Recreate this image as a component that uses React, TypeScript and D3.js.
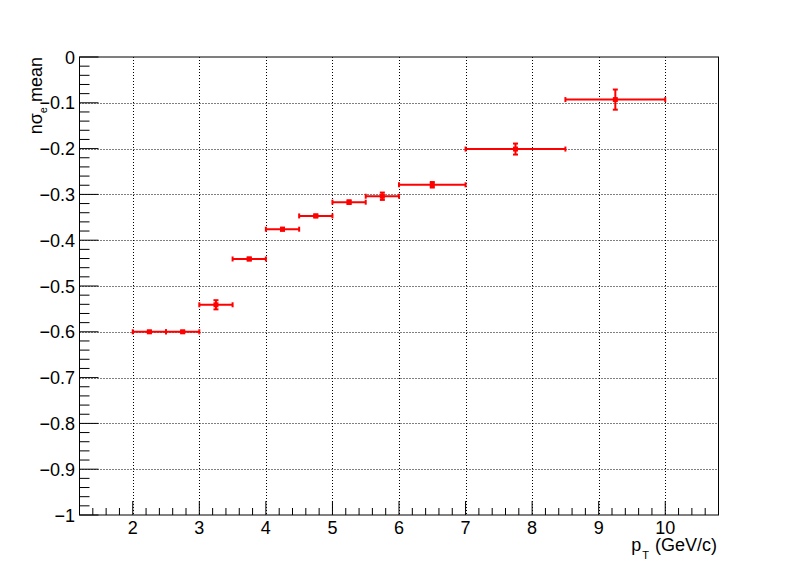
import React from "react";
import * as d3 from "d3";

const binLow = [2, 2.5, 3, 3.5, 4, 4.5, 5, 5.5, 6, 7, 8.5];
const binHigh = [2.5, 3, 3.5, 4, 4.5, 5, 5.5, 6, 7, 8.5, 10];
const meanValues = [-0.6, -0.6, -0.541, -0.441, -0.376, -0.347, -0.317, -0.304, -0.279, -0.201, -0.093];
const meanErrors = [0.002, 0.002, 0.01, 0.003, 0.003, 0.003, 0.004, 0.008, 0.006, 0.012, 0.022];
const xTicks = [2, 3, 4, 5, 6, 7, 8, 9, 10];
const yTicks = [0, -0.1, -0.2, -0.3, -0.4, -0.5, -0.6, -0.7, -0.8, -0.9, -1];
const yTickLabels = ["0", "−0.1", "−0.2", "−0.3", "−0.4", "−0.5", "−0.6", "−0.7", "−0.8", "−0.9", "−1"];

const W = 798, H = 573;
const L = 79.5, R = 718.5, T = 57, B = 515;
const FONT = "'Liberation Sans', Arial, Helvetica, sans-serif";

export default function App() {
  const x = d3.scaleLinear().domain([1.2, 10.8]).range([L, R]);
  const y = d3.scaleLinear().domain([-1, 0]).range([B, T]);

  const xMinor: number[] = [];
  for (let i = 6; i <= 54; i++) {
    const v = i * 0.2;
    if (Math.abs(v - Math.round(v)) > 1e-6) xMinor.push(v);
  }
  const yMinor: number[] = [];
  for (let i = 0; i <= 50; i++) {
    const v = -i * 0.02;
    if (i % 5 !== 0) yMinor.push(v);
  }

  const red = "#ff0000";

  return (
    <svg width={W} height={H} style={{ position: "absolute", left: 0, top: 0, display: "block" }} fontFamily={FONT}>
      <rect x={0} y={0} width={W} height={H} fill="#fff" />
      {/* grid */}
      {xTicks.map((t) => (
        <line key={"gx" + t} x1={Math.round(x(t)) + 0.5} x2={Math.round(x(t)) + 0.5} y1={T} y2={B} stroke="#000" strokeWidth={1} strokeDasharray="1,2" />
      ))}
      {yTicks.slice(1, -1).map((t) => (
        <line key={"gy" + t} x1={L} x2={R} y1={Math.round(y(t)) + 0.5} y2={Math.round(y(t)) + 0.5} stroke="#000" strokeWidth={1} strokeDasharray="1,2" />
      ))}
      {/* frame */}
      <rect x={L} y={T} width={R - L} height={B - T} fill="none" stroke="#000" strokeWidth={1} />
      {/* x ticks */}
      {xTicks.map((t) => (
        <line key={"xt" + t} x1={x(t)} x2={x(t)} y1={B} y2={B - 14} stroke="#000" />
      ))}
      {xMinor.map((t) => (
        <line key={"xm" + t} x1={x(t)} x2={x(t)} y1={B} y2={B - 7} stroke="#000" />
      ))}
      {/* y ticks */}
      {yTicks.map((t) => (
        <line key={"yt" + t} x1={L} x2={L + 19} y1={y(t)} y2={y(t)} stroke="#000" />
      ))}
      {yMinor.map((t) => (
        <line key={"ym" + t} x1={L} x2={L + 10} y1={y(t)} y2={y(t)} stroke="#000" />
      ))}
      {/* x labels */}
      {xTicks.map((t) => (
        <text key={"xl" + t} x={x(t)} y={534} textAnchor="middle" fontSize={18} fill="#000">{t}</text>
      ))}
      {/* y labels */}
      {yTicks.map((t, i) => (
        <text key={"yl" + t} x={75} y={y(t) + 6.5} textAnchor="end" fontSize={18} fill="#000">{yTickLabels[i]}</text>
      ))}
      {/* x title */}
      <text x={717} y={551} textAnchor="end" fontSize={18} fill="#000">
        p<tspan fontSize={11} dy={8} dx={1}>T</tspan><tspan dy={-8} dx={1}> (GeV/c)</tspan>
      </text>
      {/* y title */}
      <text transform={`translate(42,${T}) rotate(-90)`} textAnchor="end" fontSize={18} fill="#000">
        nσ<tspan fontSize={11} dy={5}>e</tspan><tspan dy={-5}> mean</tspan>
      </text>
      {/* data */}
      {meanValues.map((v, i) => {
        const xc = x((binLow[i] + binHigh[i]) / 2);
        const yc = y(v);
        const x1 = x(binLow[i]);
        const x2 = x(binHigh[i]);
        const yt = y(v + meanErrors[i]);
        const yb = y(v - meanErrors[i]);
        return (
          <g key={"p" + i} stroke={red} fill={red}>
            <line x1={x1} x2={x2} y1={yc} y2={yc} strokeWidth={2} />
            <line x1={x1} x2={x1} y1={yc - 2.5} y2={yc + 2.5} strokeWidth={2} />
            <line x1={x2} x2={x2} y1={yc - 2.5} y2={yc + 2.5} strokeWidth={2} />
            <line x1={xc} x2={xc} y1={yt} y2={yb} strokeWidth={2} />
            <line x1={xc - 2.5} x2={xc + 2.5} y1={yt} y2={yt} strokeWidth={2} />
            <line x1={xc - 2.5} x2={xc + 2.5} y1={yb} y2={yb} strokeWidth={2} />
            <rect x={xc - 2.5} y={yc - 2.5} width={5} height={5} stroke="none" />
          </g>
        );
      })}
    </svg>
  );
}
